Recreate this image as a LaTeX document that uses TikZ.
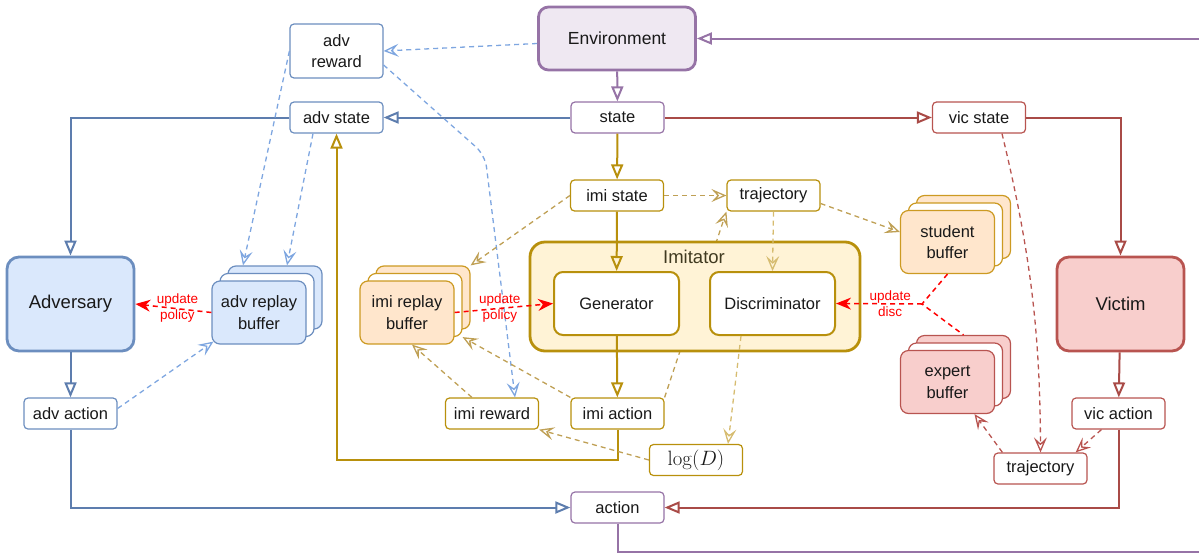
\documentclass[tikz,border=0pt]{standalone}
\usepackage[no-math]{fontspec}
\setmainfont{Liberation Sans}
\usetikzlibrary{positioning, calc, arrows.meta, backgrounds}

\definecolor{advc}{HTML}{6C8EBF}
\definecolor{advf}{HTML}{DAE8FC}
\definecolor{advl}{HTML}{5D7DAE}
\definecolor{advd}{HTML}{7EA6E0}
\definecolor{vicc}{HTML}{B85450}
\definecolor{vicf}{HTML}{F8CECC}
\definecolor{vicl}{HTML}{A94B47}
\definecolor{imic}{HTML}{B8900C}
\definecolor{imif}{HTML}{FFF3D6}
\definecolor{imib}{HTML}{FFE6CC}
\definecolor{imibd}{HTML}{CC9A22}
\definecolor{imid}{HTML}{BFA055}
\definecolor{imie}{HTML}{D6BC70}
\definecolor{imit}{HTML}{403A20}
\definecolor{envc}{HTML}{9673A6}
\definecolor{envf}{HTML}{EFE8F2}
\definecolor{upd}{HTML}{FF0000}

\tikzset{
  box/.style={draw, rounded corners=4pt, fill=white, text=black!90, line width=1.2pt,
    minimum width=93pt, minimum height=31pt, inner sep=0pt, align=center,
    font=\fontsize{16.5}{21.5}\selectfont},
  bigbox/.style={box, rounded corners=12pt, line width=2.8pt, minimum width=127pt,
    minimum height=94pt, font=\fontsize{18.5}{22}\selectfont},
  midbox/.style={box, rounded corners=9pt, line width=2pt, minimum width=125pt, minimum height=63pt},
  buf/.style={box, rounded corners=8pt, minimum width=94pt, minimum height=63pt},
  solidln/.style={line width=2pt, -{Triangle[open, length=15pt, width=12pt, line width=2pt]}},
  dashln/.style={line width=1.3pt, dash pattern=on 5pt off 4pt,
    -{Stealth[open, length=15pt, width=13pt, inset=6pt, line width=1.3pt]}},
  updln/.style={line width=1.5pt, upd, dash pattern=on 5pt off 4pt, -{Stealth[length=15pt, width=12pt]}},
  updlbl/.style={upd, font=\fontsize{13.5}{15.5}\selectfont, align=center, inner sep=0pt},
}

\begin{document}
\begin{tikzpicture}[x=1pt, y=-1pt]
\useasboundingbox (0,0) rectangle (1199,555);

% top row
\node[bigbox, draw=envc, fill=envf, rounded corners=10pt, minimum width=157pt, minimum height=63pt,
  font=\fontsize{17.5}{21}\selectfont] (env) at (617,38.5) {Environment};
\node[box, draw=envc] (state) at (617.5,117.5) {state};
\node[box, draw=advc] (advstate) at (336.5,117.5) {adv state};
\node[box, draw=advc, minimum height=54pt] (advrew) at (336.5,51) {adv\\reward};
\node[box, draw=vicc] (vicstate) at (979,117.5) {vic state};
\node[box, draw=imic] (imistate) at (617,195.5) {imi state};
\node[box, draw=imic] (traj) at (773.5,195.5) {trajectory};

% agents
\node[bigbox, draw=advc, fill=advf] (adv) at (70.5,304) {Adversary};
\node[bigbox, draw=vicc, fill=vicf] (vic) at (1120.5,304) {Victim};
\node[bigbox, draw=imic, fill=imif, rounded corners=15pt, minimum width=330pt, minimum height=109pt] (imitator) at (695,296.5) {};
\node[text=imit, font=\fontsize{18.5}{22}\selectfont] (imilbl) at (694,257) {Imitator};
\node[midbox, draw=imic] (gen) at (616.5,303.5) {Generator};
\node[midbox, draw=imic] (disc) at (772.5,303.5) {Discriminator};

% buffers
\foreach \n/\x/\y/\c/\f in {advbuf/259/312.5/advc/advf, imibuf/407/312.5/imibd/imib,
    stubuf/947.5/242/imibd/imib, expbuf/947.5/382/vicc/vicf} {
  \node[buf, draw=\c, fill=\f] (\n-3) at (\x+16,\y-15) {};
  \node[buf, draw=\c, fill=white] (\n-2) at (\x+8,\y-7.5) {};
}
\node[buf, draw=advc, fill=advf] (advbuf) at (259,312.5) {adv replay\\buffer};
\node[buf, draw=imibd, fill=imib] (imibuf) at (407,312.5) {imi replay\\buffer};
\node[buf, draw=imibd, fill=imib] (stubuf) at (947.5,242) {student\\buffer};
\node[buf, draw=vicc, fill=vicf] (expbuf) at (947.5,382) {expert\\buffer};

% bottom row
\node[box, draw=advc] (advact) at (70.5,413.5) {adv action};
\node[box, draw=imic] (imirew) at (492,413.5) {imi reward};
\node[box, draw=imic] (imiact) at (617.5,413.5) {imi action};
\node[box, draw=imic, font=\fontsize{20}{22}\selectfont] (logd) at (696,460) {$\log(D)$};
\node[box, draw=envc] (act) at (617.5,507.5) {action};
\node[box, draw=vicc] (vicact) at (1118.5,413.5) {vic action};
\node[box, draw=vicc] (traj2) at (1040.5,468.5) {trajectory};

\coordinate (imiret) at (336.5,460);
\coordinate (envloop) at (1215,552);
\coordinate (advbend) at (485,155);
\coordinate (discj) at (922,304);

% solid connectors
\draw[solidln, envc] (env) -- (state);
\draw[solidln, advl] (state) -- (advstate);
\draw[solidln, vicl] (state) -- (vicstate);
\draw[solidln, imic] (state) -- (imistate);
\draw[solidln, advl] (advstate) -| (adv);
\draw[solidln, vicl] (vicstate) -| (vic);
\draw[solidln, imic] (imistate) -- (gen);
\draw[solidln, imic] (gen) -- (imiact);
\draw[solidln, advl] (adv) -- (advact);
\draw[solidln, vicl] (vic) -- (vicact);
\draw[solidln, advl] (advact) |- (act);
\draw[solidln, vicl] (vicact) |- (act);
\draw[solidln, imic] (imiact.south) |- (imiret) -- (advstate.south);
\draw[solidln, envc] (act.south) |- (envloop) |- (env.east);

% adversary data
\draw[dashln, advd] ($(env.west)+(0,5)$) -- (advrew.east);
\draw[dashln, advd] (advrew.west) -- ($(advbuf-3.north)+(-32,0)$);
\draw[dashln, advd] ($(advstate.south)+(-23.5,0)$) -- ($(advbuf-3.north)+(12,0)$);
\draw[dashln, advd, rounded corners=12pt] ($(advrew.east)+(0,14)$) -- (advbend) -- ($(imirew.north)+(23,0)$);
\draw[dashln, advd] ($(advact.east)+(0,-5)$) -- ($(advbuf.south west)+(2,-3)$);

% imitator data
\begin{pgfonlayer}{background}
\draw[dashln, imid] (imiact.north east) -- (traj.south west);
\end{pgfonlayer}
\draw[dashln, imid] (imistate) -- (traj);
\draw[dashln, imie] (traj.south) -- (disc.north);
\draw[dashln, imid] ($(traj.east)+(0,8)$) -- ($(stubuf.west)+(0,-10)$);
\draw[dashln, imid] (imistate.west) -- (imibuf-3.north east);
\draw[dashln, imid] ($(imirew.north west)+(27,0)$) -- ($(imibuf.south)+(5,0)$);
\draw[dashln, imid] (imiact.north west) -- (imibuf-2.south east);
\draw[dashln, imid] (logd.west) -- (imirew.south east);
\draw[dashln, imie] ($(disc.south west)+(32,0)$) -- ($(logd.north)+(32,0)$);

% victim data
\draw[dashln, vicc] ($(vicstate.south)+(23,0)$) .. controls (1030,250) and (1040,330) .. (traj2.north);
\draw[dashln, vicc] ($(vicact.south west)+(30,0)$) -- ($(traj2.north east)+(-12,0)$);
\draw[dashln, vicc] ($(traj2.north west)+(9,0)$) -- ($(expbuf.south)+(27,0)$);

% updates
\draw[updln] (advbuf.west) -- (adv.east) node[updlbl, midway, xshift=4pt] {update\\policy};
\draw[updln] (imibuf.east) -- (gen.west) node[updlbl, midway, xshift=-4pt] {update\\policy};
\draw[upd, line width=1.5pt, dash pattern=on 5pt off 4pt] (stubuf.south) -- (discj) -- (expbuf-3.north);
\draw[updln] (discj) -- (disc.east) node[updlbl, pos=0.37] {update\\disc};
\end{tikzpicture}
\end{document}
